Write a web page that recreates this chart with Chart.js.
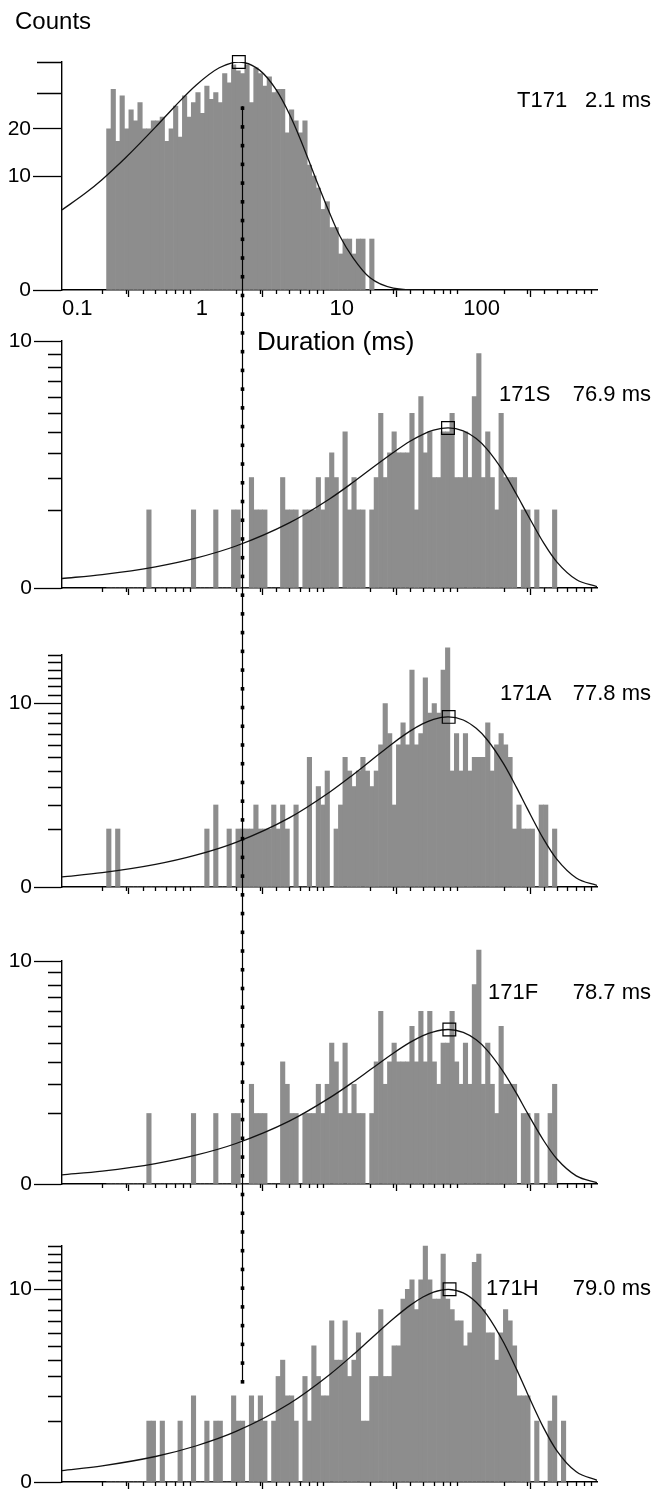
<!DOCTYPE html>
<html>
<head>
<meta charset="utf-8">
<script src="https://cdn.jsdelivr.net/npm/chart.js@4.4.1/dist/chart.umd.min.js"></script>
<style>
  html, body { margin: 0; padding: 0; background: #fff; }
  #page { position: relative; width: 652px; height: 1491px; overflow: hidden; }
  #page canvas { position: absolute; left: 0; display: block; }
</style>
</head>
<body>
<div id="page"></div>
<script>
// histogram binning: 30 bins per decade, first bin index -20 (0.215 ms)
const binsPerDecade = 30;
const firstBin = -20;
const lastBin = 83;

const panelNames = ['T171', '171S', '171A', '171F', '171H'];
const fitTimes = [2.1, 76.9, 77.8, 78.7, 79.0];   // ms, peak of fitted curve
const fitPeaks = [40, 4.2, 8.6, 4.8, 10];          // counts at the peak

// counts per bin, starting at bin -20
const countsT171 = [20,31,17,29,20,25,22,27,20,20, 22,22,23,17,20,26,18,29,23,27,
  30,24,32,28,30,27,36,33,39,37, 36,39,27,38,36,32,35,30,31,31,
  19,25,22,19,22,12,10,8,5,6, 3,3,1,2,2,1,2,2,0,2];
const counts171S = [0,0,0,0,0,0,0,0,0,1, 0,0,0,0,0,0,0,0,0,1, 0,0,0,0,1,0,0,0,1,1,
  0,0,2,1,1,1,0,0,0,2, 1,1,1,0,1,1,1,2,1,2, 3,2,0,4,1,2,1,1,0,1,
  2,5,2,3,4,3,3,3,5,1, 6,3,4,2,2,4,4,5,2,2, 4,2,6,9,2,4,2,1,5,2,
  2,2,0,1,1,0,1,0,0,0,1];
const counts171A = [1,0,1,0,0,0,0,0,0,0, 0,0,0,0,0,0,0,0,0,0, 0,0,1,0,2,0,0,1,0,1,
  1,1,1,2,1,1,1,2,1,2, 1,0,2,0,0,5,0,3,2,4, 0,1,2,5,4,3,4,5,4,3,
  4,6,10,7,2,6,8,6,14,6, 7,13,9,10,9,14,17,4,7,4, 7,4,5,5,5,8,4,6,7,6,
  5,1,2,1,1,1,0,2,2,0,1];
const counts171F = [0,0,0,0,0,0,0,0,0,1, 0,0,0,0,0,0,0,0,0,1, 0,0,0,0,1,0,0,0,1,1,
  0,0,2,1,1,1,0,0,0,3, 2,1,1,0,1,1,1,2,1,2, 4,3,1,4,1,2,1,1,0,1,
  3,6,2,3,4,3,3,3,5,3, 6,3,6,3,2,4,4,6,3,2, 4,2,8,11,2,4,2,1,5,2,
  2,2,0,1,1,0,1,0,0,1,2];
const counts171H = [0,0,0,0,0,0,0,0,0,1, 1,0,1,0,0,0,1,0,0,2, 0,0,1,0,1,1,0,0,2,1,
  1,0,2,1,2,1,0,1,3,4, 2,2,1,0,3,1,5,3,2,2, 7,4,4,7,3,4,6,1,1,3,
  3,8,3,3,5,5,9,10,11,8, 11,15,11,9,9,14,9,8,7,7, 5,6,13,14,8,6,6,4,6,8,
  7,5,2,2,2,0,1,0,0,1,2,0,1];

// fitted curves
const fitXT171 = [0.1,0.15,0.2,0.3,0.5,0.7,1,1.5,2.1,3,4,5,6,7,8,10,12,15,20,30,50,100,1000];
const fitYT171 = [4.94,7.23,9.41,13.5,20.4,26.0,32.2,38.0,40,37.2,30.8,23.9,17.8,12.9,9.2,4.6,2.2,0.8,0.12,0.003,0,0,0];
const fitXMut = [0.1,0.2,0.5,1,2,5,10,15,20,30,40,50,60,77,100,125,150,200,250,300,400,500,700,1000];
const fitY171S = [0.0148,0.0296,0.0736,0.146,0.289,0.695,1.30,1.83,2.29,3.01,3.53,3.87,4.08,4.2,4.05,3.66,3.17,2.21,1.44,0.904,0.329,0.112,0.0117,0.0003];
const fitY171A = [0.0304,0.0606,0.151,0.300,0.592,1.42,2.67,3.75,4.68,6.17,7.22,7.93,8.36,8.6,8.29,7.48,6.49,4.52,2.95,1.85,0.673,0.230,0.024,0.0007];
const fitY171F = [0.0169,0.0338,0.0841,0.167,0.330,0.794,1.49,2.09,2.61,3.44,4.03,4.43,4.66,4.8,4.62,4.18,3.62,2.52,1.65,1.03,0.376,0.128,0.0134,0.0004];
const fitY171H = [0.0353,0.0705,0.175,0.349,0.688,1.65,3.10,4.36,5.45,7.17,8.40,9.22,9.72,10,9.63,8.70,7.55,5.26,3.43,2.15,0.783,0.267,0.0279,0.0008];

// axes
const xDecades = [0.1, 1, 10, 100, 1000];
const xDecadeLabels = ['0.1', '1', '10', '100', ''];
const xMinorTicks = [0.2,0.3,0.4,0.5,0.6,0.7,0.8,0.9, 2,3,4,5,6,7,8,9, 20,30,40,50,60,70,80,90, 200,300,400,500,600,700,800,900];
const yMax = [40, 10, 16, 10, 15];
const yLabelled = [[0, 10, 20], [0, 10], [0, 10], [0, 10], [0, 10]];
const yMinor = [[30, 40], [1,2,3,4,5,6,7,8,9], [1,2,3,4,5,6,7,8,9,11,12,13,14,15,16],
  [1,2,3,4,5,6,7,8,9], [1,2,3,4,5,6,7,8,9,11,12,13,14,15]];
const refLineAt = 2.2;      // ms, dotted reference line
const refLineTop = 26;      // counts in first panel
const refLineBottom = 2.7;  // counts in last panel

const allCounts = [countsT171, counts171S, counts171A, counts171F, counts171H];
const allFitX = [fitXT171, fitXMut, fitXMut, fitXMut, fitXMut];
const allFitY = [fitYT171, fitY171S, fitY171A, fitY171F, fitY171H];

// page layout
const panelTop = [0, 320, 610, 902, 1200];
const panelHeight = [320, 290, 292, 298, 300];
const plotTop = [62, 21, 45, 59, 46];
const plotBottom = [290, 268, 277, 282, 282];
const labelY = [101, 75, 84, 91, 89];
const nameX = [517, 499, 500, 488, 486];
const minorLen = [25, 14, 14, 14, 14];
const majorLen = [29, 28, 28, 28, 28];
const FONT = "'Liberation Sans', Arial, Helvetica, sans-serif";

Chart.defaults.font.family = FONT;
Chart.defaults.color = '#000';
Chart.defaults.animation = false;

class SqrtScale extends Chart.LinearScale {
  static id = 'sqrt';
  getPixelForValue(value) {
    const lo = Math.sqrt(Math.max(this.min, 0)), hi = Math.sqrt(this.max);
    return this.getPixelForDecimal((Math.sqrt(Math.max(value || 0, 0)) - lo) / (hi - lo));
  }
  getValueForPixel(pixel) {
    const lo = Math.sqrt(Math.max(this.min, 0)), hi = Math.sqrt(this.max);
    const s = lo + this.getDecimalForPixel(pixel) * (hi - lo);
    return s * s;
  }
}
Chart.register(SqrtScale);

const binCentres = [];
for (let k = firstBin; k <= lastBin; k++) binCentres.push(Math.pow(10, (k + 0.5) / binsPerDecade));

const charts = [];

const decor = {
  id: 'decor',
  afterDatasetsDraw(chart, args, o) {
    const ctx = chart.ctx, xs = chart.scales.x, ys = chart.scales.y;
    ctx.save();
    ctx.strokeStyle = '#000';
    ctx.fillStyle = '#000';
    ctx.lineWidth = 1.3;
    // short ticks
    ctx.beginPath();
    yMinor[o.i].forEach(v => {
      const py = Math.round(ys.getPixelForValue(v)) + 0.5;
      ctx.moveTo(ys.right - minorLen[o.i], py);
      ctx.lineTo(ys.right, py);
    });
    xMinorTicks.forEach(v => {
      const px = Math.round(xs.getPixelForValue(v)) + 0.5;
      ctx.moveTo(px, xs.top);
      ctx.lineTo(px, xs.top + 4);
    });
    ctx.stroke();

    // dotted reference line running through all panels
    const firstY = o.i === 0 ? ys : charts[0].scales.y;
    const topPage = panelTop[0] + firstY.getPixelForValue(refLineTop);
    const botPage = o.i === 4 ? panelTop[4] + ys.getPixelForValue(refLineBottom)
                              : panelTop[o.i] + chart.height;
    const px = Math.round(xs.getPixelForValue(refLineAt)) + 0.5;
    const y0 = Math.max(topPage, panelTop[o.i]) - panelTop[o.i];
    const y1 = botPage - panelTop[o.i];
    ctx.lineWidth = 1.2;
    ctx.beginPath();
    ctx.moveTo(px, y0);
    ctx.lineTo(px, y1);
    ctx.stroke();
    const step = 18.73;
    for (let n = 0; n < 80; n++) {
      const yp = topPage + 2 + n * step;
      if (yp > botPage + 0.5) break;
      const yl = yp - panelTop[o.i];
      if (yl < -2 || yl > chart.height + 2) continue;
      ctx.fillRect(px - 1.8, yl - 1.8, 3.6, 3.6);
    }
    ctx.restore();
  },
  afterDraw(chart, args, o) {
    const ctx = chart.ctx;
    ctx.save();
    ctx.fillStyle = '#000';
    ctx.textBaseline = 'middle';
    ctx.textAlign = 'left';
    ctx.font = '22px ' + FONT;
    ctx.fillText(panelNames[o.i], nameX[o.i], labelY[o.i]);
    ctx.textAlign = 'right';
    ctx.fillText(fitTimes[o.i].toFixed(1) + ' ms', 651, labelY[o.i]);
    ctx.textAlign = 'left';
    if (o.i === 0) {
      ctx.font = '24px ' + FONT;
      ctx.fillText('Counts', 15, 22);
    }
    if (o.i === 1) {
      ctx.font = '26px ' + FONT;
      ctx.fillText('Duration (ms)', 257, 23);
    }
    ctx.restore();
  }
};

const page = document.getElementById('page');

for (let i = 0; i < 5; i++) {
  const cv = document.createElement('canvas');
  cv.width = 652;
  cv.height = panelHeight[i];
  cv.style.top = panelTop[i] + 'px';
  page.appendChild(cv);

  const bars = allCounts[i].map((c, j) => ({ x: binCentres[j], y: c }));
  const fit = allFitX[i].map((x, j) => ({ x: x, y: allFitY[i][j] }));

  const chart = new Chart(cv, {
    type: 'bar',
    data: {
      datasets: [
        {
          type: 'line', data: [{ x: fitTimes[i], y: fitPeaks[i] }], showLine: false,
          pointStyle: 'rect', pointRadius: 9, pointBorderColor: '#000', pointBorderWidth: 1.2,
          pointBackgroundColor: 'rgba(0,0,0,0)', order: 0, clip: false
        },
        {
          type: 'line', data: fit, borderColor: '#111', borderWidth: 1.3, pointRadius: 0,
          fill: false, cubicInterpolationMode: 'monotone', order: 1
        },
        {
          type: 'bar', data: bars, backgroundColor: '#8d8d8d', borderWidth: 0,
          barPercentage: 1, categoryPercentage: 1, clip: false, order: 2
        }
      ]
    },
    options: {
      responsive: false,
      animation: false,
      events: [],
      layout: { padding: { top: plotTop[i], right: 55, left: 0, bottom: 0 } },
      plugins: { legend: { display: false }, tooltip: { enabled: false }, decor: { i: i } },
      scales: {
        x: {
          type: 'logarithmic', min: 0.1, max: 1000,
          afterBuildTicks: s => { s.ticks = xDecades.map(v => ({ value: v, major: true })); },
          afterFit: s => { s.height = panelHeight[i] - plotBottom[i]; s.paddingLeft = 0; s.paddingRight = 0; },
          grid: { drawOnChartArea: false, drawTicks: true, tickLength: 7, tickColor: '#000', tickWidth: 1.3 },
          border: { display: true, color: '#000', width: 1.4 },
          ticks: {
            display: i === 0, autoSkip: false, maxRotation: 0, minRotation: 0, align: 'start',
            padding: -1, font: { size: 22 },
            callback: v => xDecadeLabels[xDecades.indexOf(v)]
          }
        },
        y: {
          type: 'sqrt', min: 0, max: yMax[i],
          afterBuildTicks: s => { s.ticks = yLabelled[i].map(v => ({ value: v })); },
          afterFit: s => { s.width = 62; s.paddingTop = 0; s.paddingBottom = 0; },
          grid: { drawOnChartArea: false, drawTicks: true, tickLength: majorLen[i], tickColor: '#000', tickWidth: 1.3 },
          border: { display: true, color: '#000', width: 1.4 },
          ticks: { padding: 2, font: { size: 21 }, callback: v => String(v) }
        }
      }
    },
    plugins: [decor]
  });
  charts.push(chart);
}
</script>
</body>
</html>
